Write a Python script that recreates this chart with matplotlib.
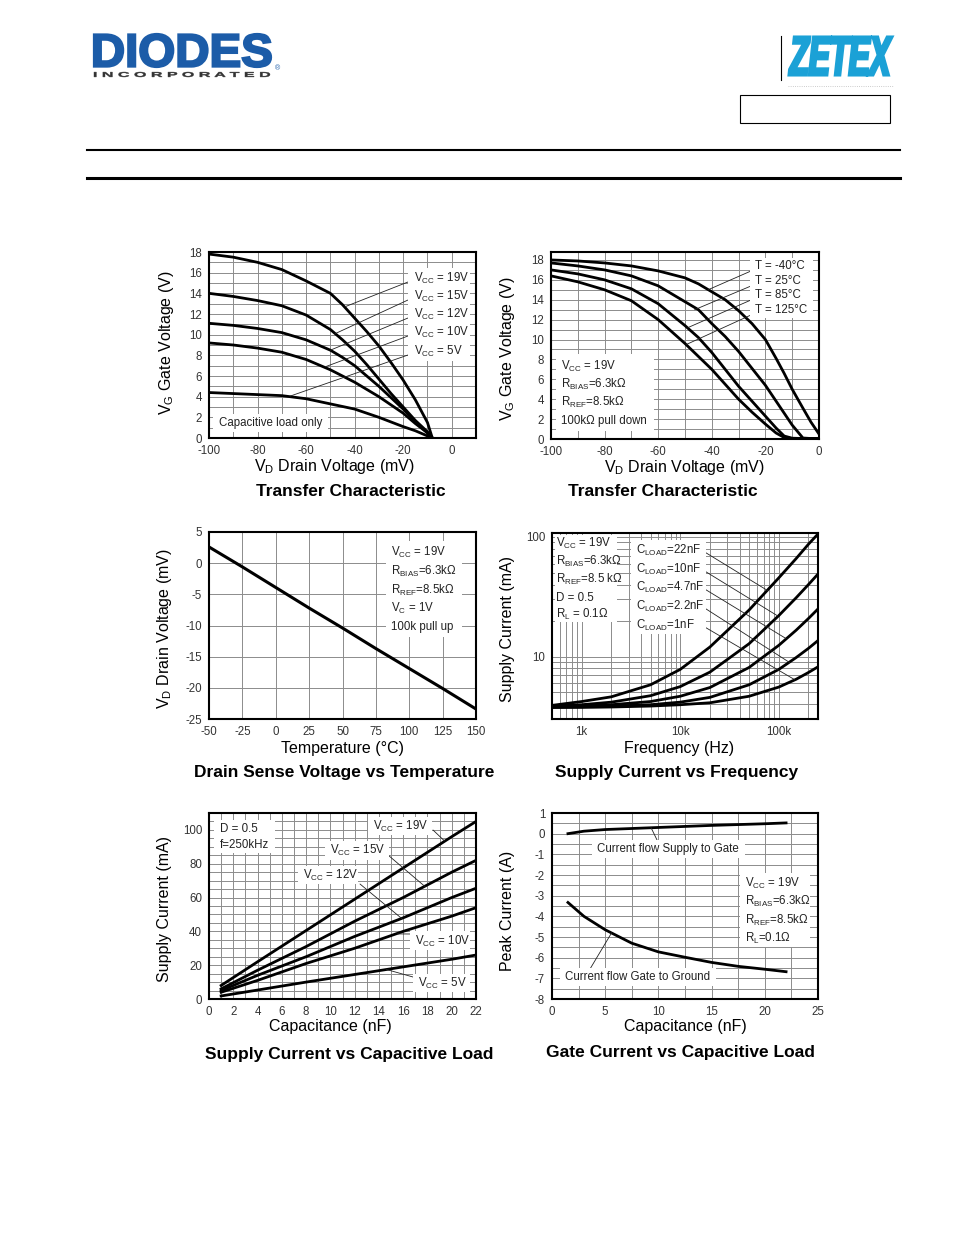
import numpy as np
import matplotlib.pyplot as plt
from matplotlib.patches import Rectangle, PathPatch
from matplotlib.lines import Line2D
from matplotlib.textpath import TextPath
from matplotlib.font_manager import FontProperties
from matplotlib.transforms import Affine2D
from matplotlib.ticker import LogLocator, NullFormatter

plt.rcParams['font.family'] = ['Liberation Sans', 'DejaVu Sans']
plt.rcParams['mathtext.default'] = 'regular'
plt.rcParams['axes.unicode_minus'] = False

# ---- transfer characteristic vs Vcc (capacitive load only)
vd1 = [-100, -90, -80, -70, -60, -50, -45, -40, -35, -30, -25, -20, -15, -10, -8]
vg_vcc19 = [17.8, 17.5, 17.0, 16.3, 15.2, 14.0, 12.9, 11.6, 10.3, 8.9, 7.3, 5.6, 3.7, 1.5, 0.0]
vg_vcc15 = [14.0, 13.7, 13.3, 12.8, 11.9, 10.5, 9.5, 8.4, 7.1, 5.7, 4.3, 3.0, 1.7, 0.6, 0.0]
vg_vcc12 = [11.1, 10.9, 10.6, 10.2, 9.5, 8.5, 7.8, 7.0, 6.0, 5.0, 3.9, 2.8, 1.6, 0.5, 0.0]
vg_vcc10 = [9.2, 9.0, 8.7, 8.3, 7.6, 6.6, 6.0, 5.4, 4.7, 4.0, 3.2, 2.4, 1.4, 0.5, 0.0]
vg_vcc5 = [4.4, 4.3, 4.2, 4.1, 3.8, 3.3, 3.05, 2.8, 2.4, 2.0, 1.55, 1.1, 0.7, 0.2, 0.0]

# ---- transfer characteristic vs temperature
vd2 = [-100, -90, -80, -70, -60, -50, -45, -40, -35, -30, -25, -20, -16, -13, -10, -6, -3, 0]
vg_m40 = [18.0, 17.9, 17.7, 17.4, 16.9, 16.2, 15.6, 14.8, 14.0, 12.9, 11.6, 10.0, 8.1, 6.6, 5.0, 3.1, 1.7, 0.5]
vg_25 = [17.7, 17.4, 17.0, 16.4, 15.4, 13.8, 13.0, 11.6, 10.3, 8.8, 7.1, 5.4, 3.8, 2.6, 1.4, 0.1, 0.05, 0.05]
vg_85 = [17.0, 16.6, 16.0, 15.1, 13.6, 11.4, 10.2, 8.7, 7.0, 5.3, 3.8, 2.3, 1.1, 0.3, 0.08, 0.05, 0.05, 0.05]
vg_125 = [16.4, 15.8, 15.0, 13.9, 12.0, 9.6, 8.3, 7.0, 5.5, 4.0, 2.7, 1.5, 0.6, 0.15, 0.05, 0.05, 0.05, 0.05]

# ---- drain sense voltage vs temperature
temp = [-50, -25, 0, 25, 50, 75, 100, 125, 150]
vd_temp = [2.6, -0.6, -3.9, -7.2, -10.4, -13.7, -16.9, -20.1, -23.4]

# ---- supply current vs frequency
freq = [500, 1000, 2000, 5000, 10000, 20000, 50000, 100000, 150000, 200000, 250000]
icc_22n = [3.9, 4.2, 4.6, 5.8, 7.8, 12.0, 24.5, 45.5, 66.0, 87.0, 106.0]
icc_10n = [3.85, 3.95, 4.15, 4.7, 5.6, 7.4, 12.8, 22.0, 31.0, 40.0, 49.0]
icc_4n7 = [3.8, 3.85, 3.95, 4.2, 4.65, 5.5, 8.1, 12.4, 16.6, 20.8, 25.0]
icc_2n2 = [3.75, 3.8, 3.85, 3.95, 4.15, 4.55, 5.8, 7.8, 9.8, 11.7, 13.6]
icc_1n = [3.75, 3.75, 3.78, 3.85, 3.95, 4.1, 4.65, 5.55, 6.45, 7.35, 8.2]

# ---- supply current vs capacitive load
cap5 = [1, 4, 8, 12, 16, 20, 22]
isup_19 = [8.0, 22.0, 40.5, 59.0, 77.5, 96.0, 105.0]
isup_15 = [6.0, 17.0, 31.0, 46.0, 60.0, 75.0, 82.0]
isup_12 = [5.0, 14.0, 25.0, 37.0, 48.0, 60.0, 65.5]
isup_10 = [4.0, 11.0, 21.0, 30.0, 40.0, 49.0, 54.0]
isup_5 = [1.8, 5.3, 10.0, 14.5, 19.0, 23.5, 26.0]

# ---- gate current vs capacitive load
cap6 = [1.5, 3, 5, 7.5, 10, 12.5, 15, 17.5, 20, 22]
ipk_source = [0.0, 0.12, 0.2, 0.25, 0.3, 0.35, 0.4, 0.44, 0.48, 0.52]
ipk_sink = [-3.33, -4.0, -4.65, -5.3, -5.72, -5.98, -6.23, -6.42, -6.56, -6.68]

W, H = 954, 1235
fig = plt.figure(figsize=(W / 100, H / 100), dpi=100)


def fx(px):
    return px / W


def fy(py):
    return 1 - py / H


def panel(l, t, r, b):
    ax = fig.add_axes([fx(l), fy(b), (r - l) / W, (b - t) / H])
    for s in ax.spines.values():
        s.set_linewidth(1.5)
        s.set_color('black')
    ax.tick_params(which='both', length=0, labelsize=8.3, labelcolor='#333', pad=5)
    ax.grid(which='both', color='#8c8c8c', lw=0.7)
    ax.set_axisbelow(True)
    return ax


def label(px, py, s, size=8.3, color='#222', **kw):
    fig.text(fx(px), fy(py), s, fontsize=size, va='center', color=color, **kw)


def blank(l, t, r, b):
    fig.add_artist(Rectangle((fx(l), fy(b)), (r - l) / W, (b - t) / H,
                             transform=fig.transFigure, fc='white', ec='none', zorder=1))


def leader(ax, start, end):
    ax.annotate('', xy=end, xycoords='data', xytext=(fx(start[0]), fy(start[1])),
                textcoords='figure fraction',
                arrowprops=dict(arrowstyle='-', lw=0.6, color='#222', shrinkA=0, shrinkB=0))


def titles(xl, yl, tl, ylab, xlab, title):
    label(yl[0], yl[1], ylab, size=11.5, rotation=90, ha='center', color='black')
    label(xl[0], xl[1], xlab, size=11.5, ha='center', color='black')
    label(tl[0], tl[1], title, size=12.5, ha='center', color='black', weight='bold')


def logo(s, l, t, r, b, color, prop, edge=0.0):
    tp = TextPath((0, 0), s, size=1, prop=prop)
    ext = tp.get_extents()
    tr = (Affine2D().translate(-ext.x0, -ext.y0)
          .scale((r - l) / W / ext.width, (b - t) / H / ext.height)
          .translate(fx(l), fy(b)))
    fig.add_artist(PathPatch(tr.transform_path(tp), transform=fig.transFigure,
                             fc=color, ec=color, lw=edge))


# header
bold = FontProperties(family='Liberation Sans', weight='bold')
logo('DIODES', 94, 34, 271, 67, '#1c5ca8', bold, edge=1.6)
logo('I N C O R P O R A T E D', 94, 72, 270, 77, '#333333', bold, edge=0.3)
label(275, 69, '®', size=5, color='#1c5ca8')
logo('ZETEX', 789, 37, 892, 75, '#1ba1d6',
     FontProperties(family='Liberation Sans', weight='bold', style='italic'), edge=2.2)
fig.add_artist(Line2D([fx(781), fx(781)], [fy(36), fy(80)], transform=fig.transFigure,
                      color='black', lw=0.8))
fig.add_artist(Line2D([fx(788), fx(893)], [fy(86), fy(86)], transform=fig.transFigure,
                      color='#bbbbbb', lw=0.6, ls=':'))
fig.add_artist(Rectangle((fx(740), fy(123)), 150 / W, 28 / H, transform=fig.transFigure,
                         fc='none', ec='black', lw=0.8))
fig.add_artist(Line2D([fx(87), fx(900)], [fy(150), fy(150)], transform=fig.transFigure,
                      color='black', lw=1.5))
fig.add_artist(Line2D([fx(87), fx(900)], [fy(178), fy(178)], transform=fig.transFigure,
                      color='black', lw=2.2))

LW = 2.0

# ---------------- panel 1
ax1 = panel(209, 252, 476, 438)
for vg in [vg_vcc19, vg_vcc15, vg_vcc12, vg_vcc10, vg_vcc5]:
    ax1.plot(vd1, vg, color='black', lw=LW)
ax1.set_xlim(-100, 10)
ax1.set_ylim(0, 18)
ax1.set_xticks(np.arange(-100, 1, 20))
ax1.set_xticks(np.arange(-90, 10, 10), minor=True)
ax1.set_yticks(np.arange(0, 19, 2))
ax1.set_yticks(np.arange(1, 18, 2), minor=True)
blank(213, 414, 328, 432)
label(219, 423, 'Capacitive load only')
blank(408, 268, 470, 361)
for py, s, end in [(278, '19V', (-44, 12.7)), (296, '15V', (-48, 10.1)),
                   (314, '12V', (-50, 8.5)), (332, '10V', (-52, 6.9)),
                   (351, '5V', (-66.6, 4.05))]:
    label(414, py, r'V$_{CC}$ = ' + s)
    leader(ax1, (408, py + 4), end)
titles((334, 466), (167, 343), (351, 492),
       r'V$_G$ Gate Voltage (V)', r'V$_D$ Drain Voltage (mV)', 'Transfer Characteristic')

# ---------------- panel 2
ax2 = panel(551, 252, 819, 439)
for vg in [vg_m40, vg_25, vg_85, vg_125]:
    ax2.plot(vd2, vg, color='black', lw=LW)
ax2.set_xlim(-100, 0)
ax2.set_ylim(0, 18.8)
ax2.set_xticks(np.arange(-100, 1, 20))
ax2.set_xticks(np.arange(-90, 0, 10), minor=True)
ax2.set_yticks(np.arange(0, 19, 2))
ax2.set_yticks(np.arange(1, 19, 2), minor=True)
blank(750, 258, 813, 318)
for py, s, end in [(266, '-40', (-41.4, 15.0)), (281, '25', (-46.4, 13.0)),
                   (295, '85', (-48.9, 11.2)), (310, '125', (-49.5, 9.5))]:
    label(755, py, 'T = ' + s + '°C')
    leader(ax2, (751, py + 5), end)
blank(556, 354, 654, 431)
for py, s in [(366, r'V$_{CC}$ = 19V'), (384, r'R$_{BIAS}$=6.3kΩ'),
              (402, r'R$_{REF}$=8.5kΩ'), (421, '100kΩ pull down')]:
    label(561, py, s)
titles((684, 467), (508, 349), (663, 492),
       r'V$_G$ Gate Voltage (V)', r'V$_D$ Drain Voltage (mV)', 'Transfer Characteristic')

# ---------------- panel 3
ax3 = panel(209, 532, 476, 719)
ax3.plot(temp, vd_temp, color='black', lw=2.2)
ax3.set_xlim(-50, 150)
ax3.set_ylim(-25, 5)
ax3.set_xticks(np.arange(-50, 151, 25))
ax3.set_yticks(np.arange(-25, 6, 5))
blank(386, 541, 462, 637)
for py, s in [(552, r'V$_{CC}$ = 19V'), (571, r'R$_{BIAS}$=6.3kΩ'),
              (590, r'R$_{REF}$=8.5kΩ'), (608, r'V$_C$ = 1V'), (627, '100k pull up')]:
    label(391, py, s)
titles((343, 748), (165, 629), (344, 773),
       r'V$_D$ Drain Voltage (mV)', 'Temperature (°C)', 'Drain Sense Voltage vs Temperature')

# ---------------- panel 4
ax4 = panel(552, 533, 818, 719)
for ic in [icc_22n, icc_10n, icc_4n7, icc_2n2, icc_1n]:
    ax4.plot(freq, ic, color='black', lw=LW)
ax4.set_xscale('log')
ax4.set_yscale('log')
ax4.set_xlim(500, 250000)
ax4.set_ylim(3, 108)
ax4.set_xticks([1e3, 1e4, 1e5])
ax4.set_xticklabels(['1k', '10k', '100k'])
ax4.set_yticks([10, 100])
ax4.set_yticklabels(['10', '100'])
ax4.xaxis.set_minor_locator(LogLocator(base=10, subs=np.arange(2, 10)))
ax4.yaxis.set_minor_locator(LogLocator(base=10, subs=np.arange(2, 10)))
ax4.xaxis.set_minor_formatter(NullFormatter())
ax4.yaxis.set_minor_formatter(NullFormatter())
blank(555, 535, 617, 622)
for py, s in [(543, r'V$_{CC}$ = 19V'), (561, r'R$_{BIAS}$=6.3kΩ'),
              (579, r'R$_{REF}$=8.5 kΩ'), (598, 'D = 0.5'), (614, r'R$_L$ = 0.1Ω')]:
    label(556, py, s)
blank(631, 540, 706, 634)
for py, s, end in [(550, '22nF', (77600, 35.5)), (569, '10nF', (98000, 21.8)),
                   (587, '4.7nF', (119000, 14.1)), (606, '2.2nF', (129000, 8.9)),
                   (625, '1nF', (145000, 6.4))]:
    label(636, py, r'C$_{LOAD}$=' + s)
    leader(ax4, (703, py + 1), end)
titles((679, 748), (508, 629), (677, 773),
       'Supply Current (mA)', 'Frequency (Hz)', 'Supply Current vs Frequency')

# ---------------- panel 5
ax5 = panel(209, 813, 476, 999)
for isup in [isup_19, isup_15, isup_12, isup_10, isup_5]:
    ax5.plot(cap5, isup, color='black', lw=LW)
ax5.set_xlim(0, 22)
ax5.set_ylim(0, 110)
ax5.set_xticks(np.arange(0, 23, 2))
ax5.set_xticks(np.arange(1, 22, 2), minor=True)
ax5.set_yticks(np.arange(0, 101, 20))
ax5.set_yticks(np.arange(5, 110, 5), minor=True)
blank(214, 820, 275, 853)
label(220, 829, 'D = 0.5')
label(220, 845, 'f=250kHz')
for box, pos, s, start, end in [
        ((368, 817, 432, 835), (373, 826), '19V', (433, 830), (19.4, 93.5)),
        ((325, 841, 389, 860), (330, 850), '15V', (388, 855), (17.8, 66.5)),
        ((298, 866, 358, 884), (303, 875), '12V', (360, 884), (15.9, 47.5)),
        ((410, 931, 470, 950), (415, 941), '10V', (410, 934), (15.5, 38.5)),
        ((413, 974, 470, 992), (418, 983), '5V', (413, 977), (14.6, 17.5))]:
    blank(*box)
    label(pos[0], pos[1], r'V$_{CC}$ = ' + s)
    leader(ax5, start, end)
titles((330, 1027), (165, 909), (349, 1055),
       'Supply Current (mA)', 'Capacitance (nF)', 'Supply Current vs Capacitive Load')

# ---------------- panel 6
ax6 = panel(552, 813, 818, 999)
ax6.plot(cap6, ipk_source, color='black', lw=LW)
ax6.plot(cap6, ipk_sink, color='black', lw=LW)
ax6.set_xlim(0, 25)
ax6.set_ylim(-8, 1)
ax6.set_xticks(np.arange(0, 26, 5))
ax6.set_xticks(np.arange(2.5, 25, 5), minor=True)
ax6.set_yticks(np.arange(-8, 2, 1))
ax6.set_yticks(np.arange(-7.5, 1, 1), minor=True)
blank(592, 840, 745, 858)
label(597, 849, 'Current flow Supply to Gate')
leader(ax6, (658, 842), (9.3, 0.3))
blank(740, 873, 810, 947)
for py, s in [(883, r'V$_{CC}$ = 19V'), (901, r'R$_{BIAS}$=6.3kΩ'),
              (920, r'R$_{REF}$=8.5kΩ'), (938, r'R$_L$=0.1Ω')]:
    label(745, py, s)
blank(560, 968, 716, 986)
label(565, 977, 'Current flow Gate to Ground')
leader(ax6, (590, 969), (5.6, -4.8))
titles((685, 1027), (508, 911), (680, 1053),
       'Peak Current (A)', 'Capacitance (nF)', 'Gate Current vs Capacitive Load')

fig.savefig('out.png', dpi=100, facecolor='white')
